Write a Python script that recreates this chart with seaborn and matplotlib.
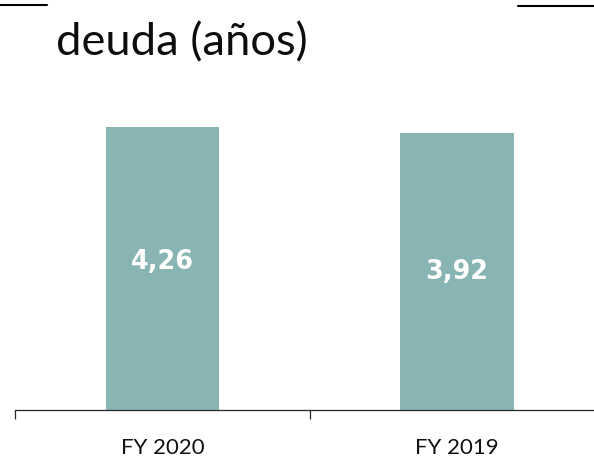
import matplotlib
matplotlib.use("Agg")
import matplotlib.pyplot as plt
from matplotlib.lines import Line2D
import seaborn as sns
import pandas as pd

# Chart data
categories = ["FY 2020", "FY 2019"]
values = [4.26, 3.92]
value_labels = ["4,26", "3,92"]
title_text = "deuda (años)"

bar_color = "#88B5B4"

sns.set_theme(style="white")
plt.rcParams["font.family"] = ["Lato", "DejaVu Sans"]

W, H = 594, 466
fig = plt.figure(figsize=(W / 100, H / 100), dpi=100)

# Axes placed in pixel terms; the category axis runs past the right edge
ax_left, ax_bottom_px, ax_top_px = 15.3, 410.3, 100.0
ax_width_px = 588.8
ax = fig.add_axes([ax_left / W, (H - ax_bottom_px) / H,
                   ax_width_px / W, (ax_bottom_px - ax_top_px) / H])

df = pd.DataFrame({"periodo": categories, "valor": values})
sns.barplot(data=df, x="periodo", y="valor", color=bar_color, width=0.387,
            saturation=1, ax=ax, linewidth=0)

ax.set_yscale("log")
ax.set_ylim(0.06852, 6.343)
ax.set_xlim(-0.5, 1.5)

# Value labels inside bars
label_y = [0.479, 0.446]
for i, (txt, yf) in enumerate(zip(value_labels, label_y)):
    ax.text(i, yf, txt, transform=ax.get_xaxis_transform(), ha="center",
            va="center", color="white", fontsize=18.4, fontweight="bold",
            family="DejaVu Sans")

# Axis styling
for s in ["left", "right", "top"]:
    ax.spines[s].set_visible(False)
ax.spines["bottom"].set_color("#262626")
ax.spines["bottom"].set_linewidth(0.9)
ax.yaxis.set_visible(False)
ax.set_xlabel("")
ax.set_ylabel("")
ax.set_xticks([-0.5, 0.5, 1.5])
ax.set_xticklabels(["", "", ""])
ax.set_xticks([0, 1], minor=True)
ax.set_xticklabels(categories, minor=True, fontsize=16, color="#111111")
ax.tick_params(axis="x", which="major", direction="out", length=6.5,
               width=0.9, color="#262626", bottom=True)
ax.tick_params(axis="x", which="minor", length=0, pad=20)

# Title fragment and decorative rules at the top
fig.text(56 / W, 1 - 55 / H, title_text, fontsize=32.6, color="#0d0d0d",
         ha="left", va="baseline")
fig.add_artist(Line2D([0, 47 / W], [1 - 5 / H, 1 - 5 / H],
                      color="black", linewidth=1.5, transform=fig.transFigure))
fig.add_artist(Line2D([518 / W, 1], [1 - 6 / H, 1 - 6 / H],
                      color="black", linewidth=1.5, transform=fig.transFigure))

fig.savefig("out.png", dpi=100)
